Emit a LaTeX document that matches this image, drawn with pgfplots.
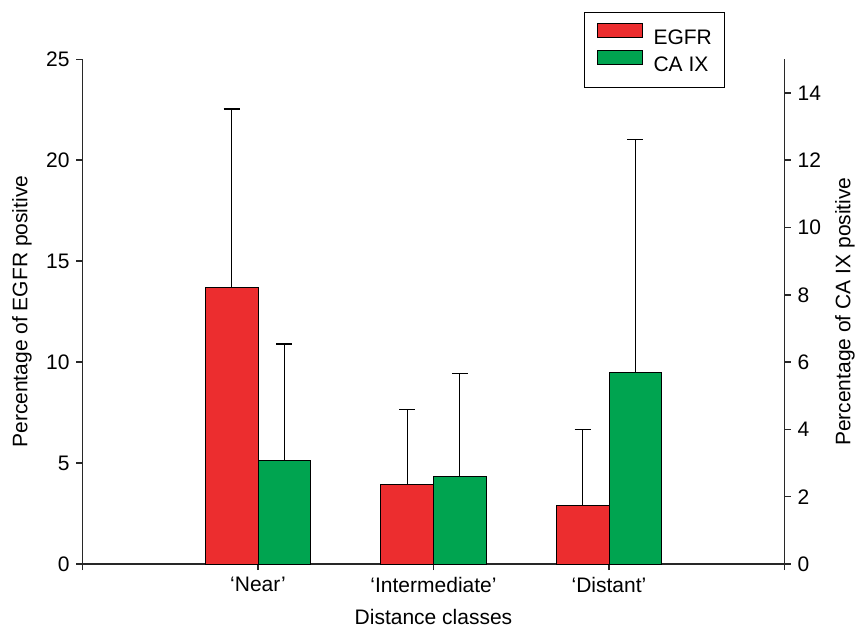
\documentclass[border=0pt]{standalone}
\usepackage{fontspec}
\setmainfont{Liberation Sans}
\usepackage{pgfplots}
\pgfplotsset{compat=1.18}
\definecolor{egfr}{RGB}{236,45,47}
\definecolor{caix}{RGB}{0,164,80}
\definecolor{axc}{RGB}{40,40,40}
\begin{document}
\begin{tikzpicture}
\pgfplotsset{
  base/.style={
    width=351pt, height=252.35pt, scale only axis,
    xmin=0, xmax=4,
    font=\fontsize{10.5}{12.6}\selectfont,
    /pgf/number format/assume math mode=true,
    tick align=outside, major tick length=3pt,
    tick style={axc, line width=0.75pt},
    axis line style={axc, line width=0.75pt},
    ybar, bar width=0.3,
  },
  myleg/.style={legend image code/.code={\draw[##1] (0pt,0.5pt) rectangle (22.5pt,7.5pt);}},
}
\begin{axis}[base, name=ax,
  axis y line*=left, axis x line*=bottom,
  ymin=0, ymax=25, ytick={0,5,...,25},
  xtick={0,1,2,3,4}, xticklabels={,‘Near’,‘Intermediate’,‘Distant’,},
  ylabel={Percentage of EGFR positive},
  xlabel={Distance classes},
  ylabel style={at={(axis description cs:-0.0862,0.5)}, anchor=center},
  xlabel style={at={(axis description cs:0.5,-0.104)}, anchor=center},
]
\addplot[fill=egfr, draw=black, line width=0.5pt, bar shift=-0.15,
  error bars/.cd, y dir=plus, y explicit,
  error bar style={black, line width=0.65pt},
  error mark options={rotate=90, mark size=4pt, black, line width=0.65pt}]
  coordinates {(1,13.69) +- (0,8.85) (2,3.95) +- (0,3.69) (3,2.92) +- (0,3.73)};
\end{axis}
\begin{axis}[base,
  axis y line*=right, axis x line=none,
  ymin=0, ymax=15, ytick={0,2,...,14},
  ylabel={Percentage of CA IX positive},
  ylabel style={at={(axis description cs:1.086,0.5)}, anchor=center},
  legend style={at={(axis description cs:0.9152,1.0943)}, anchor=north east,
    draw=black, line width=0.5pt, fill=white, inner xsep=6.3pt, inner ysep=5.35pt,
    column sep=5.35pt, font=\fontsize{10.5}{12.6}\selectfont,
    nodes={inner xsep=0pt, inner ysep=1.4pt}, cells={anchor=west}},
]
\addlegendimage{myleg, fill=egfr, draw=black, line width=0.5pt}
\addlegendentry{EGFR}
\addplot[myleg, fill=caix, draw=black, line width=0.5pt, bar shift=0.15,
  error bars/.cd, y dir=plus, y explicit,
  error bar style={black, line width=0.65pt},
  error mark options={rotate=90, mark size=4pt, black, line width=0.65pt}]
  coordinates {(1,3.08) +- (0,3.46) (2,2.59) +- (0,3.08) (3,5.70) +- (0,6.91)};
\addlegendentry{CA IX}
\end{axis}
\pgfresetboundingbox
\path ([xshift=-41.25pt, yshift=-31.5pt]ax.south west) rectangle ([xshift=36.25pt, yshift=29.65pt]ax.north east);
\end{tikzpicture}
\end{document}
